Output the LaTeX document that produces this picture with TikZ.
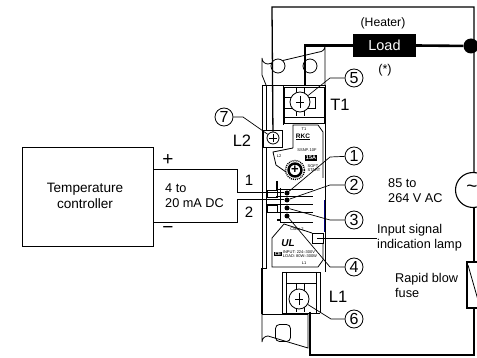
\documentclass[tikz,border=0pt]{standalone}
\usepackage{fontspec}
\setmainfont{Liberation Sans}
\begin{document}
\begin{tikzpicture}[x=1pt, y=-1pt,
    label/.style={inner sep=0pt, align=left, font=\fontsize{12.7}{15}\selectfont},
    big/.style={inner sep=0pt, font=\fontsize{16.5}{17}\selectfont},
    tiny/.style={inner sep=0pt, font=\fontsize{4}{4.5}\selectfont},
    num/.style={draw, circle, line width=0.8pt, minimum size=18pt, inner sep=0pt,
                font=\fontsize{16}{16}\selectfont},
    screw/.style={draw, circle, line width=0.8pt, inner sep=0pt, fill=white},
    spot/.style={circle, fill=black, minimum size=5pt, inner sep=0pt},
    leader/.style={line width=0.7pt},
    body/.style={line width=0.8pt},
    wire/.style={line width=1pt},
    mains/.style={line width=2.6pt}]
    \useasboundingbox (0, 0) rectangle (477, 358);
    \clip (0, 0) rectangle (477, 358);

    % Top tab and holes
    \draw [body] (266, 85) -- (262, 75) -- (262, 58) arc [start angle=180, end angle=90, radius=6] -- (319, 52)
          arc [start angle=90, end angle=0, radius=6] -- (325, 85);
    \node [screw, minimum size=14pt] (holeA) at (278, 66) {};
    \node [screw, minimum size=14pt] (holeB) at (310, 66) {};

    % Body
    \draw [body] (262, 85) -- (325, 85);
    \draw [body] (262, 85) -- (262, 268) -- (266, 268) -- (266, 148);
    \draw [line width=1.1pt] (262, 268) -- (262, 314);
    \draw [body] (266, 85) -- (266, 130) (283, 85) -- (283, 125);
    \draw [body] (325, 85) -- (325, 272);

    % Terminal T1
    \draw [body] (284, 87) rectangle (324, 123);
    \draw [body] (284, 117) -- (324, 117);
    \draw [body] (285, 97) -- (315, 97) -- (315, 108) -- (285, 108);
    \draw [body] (296, 87) -- (296, 116) (304, 87) -- (304, 116);
    \node [screw, minimum size=20pt] (screwT) at (300, 102) {};
    \draw [body] (296, 102) -- (304, 102) (300, 96) -- (300, 108);

    % Terminal L2
    \draw [body] (263, 130) rectangle (282, 147);
    \node [screw, minimum size=12pt] (screwB) at (273, 138) {};

    % Upper plate
    \draw [body] (293, 148) -- (293, 125) -- (318, 125) -- (323, 132) -- (323, 178)
          (293, 148) -- (273, 152) -- (276, 165) -- (286, 172);
    \node [tiny] (plT) at (304, 129) {T1};
    \node [inner sep=0pt, font=\bfseries\fontsize{6.5}{6.5}\selectfont] (plRkc) at (303, 137) {\underline{RKC}};
    \node [tiny] (plModel) at (307, 150) {SSNP.\,10F};
    \node [fill=black, text=white, inner sep=1pt, font=\bfseries\fontsize{5.5}{5.5}\selectfont] (plAmp) at (311, 158) {15A};
    \node [tiny, align=left] (plSoft) at (314, 168) {SOFT\\START};
    \node [tiny] (plL) at (279, 156) {L2};
    \node [draw, circle, line width=2.4pt, fill=white, minimum size=13pt, inner sep=0pt] (dial) at (295, 170) {};
    \node [inner sep=0pt, font=\bfseries\fontsize{13}{13}\selectfont] (dialPlus) at (dial) {+};
    \draw [line width=1.4pt, dash pattern=on 1pt off 1pt] (dial) circle [radius=9.5];

    % Input terminals
    \draw [body] (276, 189) -- (313, 189) (276, 196) -- (313, 196) (266, 204) -- (313, 204)
          (266, 212) -- (313, 212) (280, 188) -- (280, 222) -- (313, 222);
    \draw [body] (267, 190) rectangle (277, 197) (267, 205) rectangle (277, 212);
    \draw [line width=1.4pt] (277, 181) -- (277, 190) (277, 220) -- (280, 220);
    \node [spot] (inA) at (287, 193) {};
    \node [spot] (inB) at (287, 200) {};
    \node [spot] (inC) at (287, 208) {};
    \node [spot] (inD) at (287, 216) {};
    \draw [line width=1pt, blue!50!black] (324, 200) -- (324, 232);

    % Lower plate
    \draw [body] (312, 233) rectangle (323, 243);
    \draw [body] (312, 233) -- (284, 224) -- (272, 238) -- (272, 267) -- (318, 267) -- (323, 260) -- (323, 243);
    \node [tiny, align=center] (plClass) at (297, 229) {Class 2};
    \node [inner sep=0pt, font=\bfseries\itshape\fontsize{10}{10}\selectfont] (plUl) at (288, 243) {UL};
    \node [fill=black, text=white, inner sep=0.6pt, font=\bfseries\fontsize{4.5}{4.5}\selectfont] (plCe) at (278, 254) {CE};
    \node [tiny, align=left] (plInput) at (300, 254) {INPUT: 224--300V\\LOAD: 80W--300W};
    \node [tiny] (plLa) at (304, 263) {L1};

    % Terminal L1
    \draw [body] (282, 272) -- (320, 272) -- (320, 313) (282, 272) -- (282, 313) -- (320, 313);
    \draw [body] (286, 272) -- (286, 285) (316, 272) -- (316, 285);
    \draw [body] (286, 283) rectangle (316, 313);
    \draw [body] (296, 283) -- (296, 312) (304, 283) -- (304, 312);
    \node [screw, minimum size=20pt] (screwL) at (299, 299) {};
    \draw [body] (295, 299) -- (303, 299) (299, 293) -- (299, 305);

    % Bottom tab
    \draw [body] (262, 314) -- (262, 342) arc [start angle=180, end angle=270, radius=6] -- (308, 348) -- (308, 314);
    \draw [body] (262, 314) -- (308, 314);
    \node [draw, body, rounded corners=4pt, minimum width=15pt, minimum height=17pt, inner sep=0pt] (holeC) at (283, 333) {};

    % Temperature controller
    \node [draw, line width=1pt, minimum width=131pt, minimum height=99pt, inner sep=0pt] (ctrl) at (87.5, 197.5) {};
    \node [inner sep=0pt, align=center, font=\fontsize{13.6}{16}\selectfont] (ctrlText) at (85, 195.5) {Temperature\\controller};
    \coordinate (ctrlA) at (153, 170);
    \coordinate (ctrlB) at (153, 223);
    \draw [wire] (ctrlA) -| (237, 193) -- (inA);
    \draw [wire] (ctrlB) -| (237, 200) -- (inB);
    \node [inner sep=0pt, font=\fontsize{19}{19}\selectfont] (plus) at (168, 160) {+};
    \node [inner sep=0pt, font=\fontsize{19}{19}\selectfont] (minus) at (168, 230) {\textminus};
    \node [inner sep=0pt, font=\fontsize{15}{15}\selectfont] (one) at (249, 180) {1};
    \node [inner sep=0pt, font=\fontsize{15}{15}\selectfont] (two) at (249, 212) {2};
    \node [label, anchor=west] (signal) at (165, 196) {4 to\\20 mA DC};

    % Load and mains
    \node [fill=black, text=white, minimum width=63pt, minimum height=23pt, inner sep=0pt,
           font=\fontsize{14.5}{15}\selectfont] (load) at (384.5, 45.5) {Load};
    \node [circle, fill=black, minimum size=15pt, inner sep=0pt] (joint) at (471, 46) {};
    \node [draw, circle, line width=1.1pt, minimum size=35pt, inner sep=0pt, fill=white] (source) at (473, 190) {};
    \node [inner sep=0pt, font=\fontsize{19}{19}\selectfont, anchor=center] (wave) at (472, 189) {\char"007E};
    \node [draw, line width=1.1pt, minimum width=22pt, minimum height=46pt, inner sep=0pt, fill=white] (fuse) at (478, 285) {};
    \draw [line width=0.8pt] (468, 265) -- (478, 300);
    \coordinate (topL) at (272, 7);
    \coordinate (topR) at (474, 7);
    \coordinate (botL) at (310, 355);
    \coordinate (botR) at (474, 355);
    \coordinate (feedT) at (305, 85);
    \coordinate (feedL) at (310, 312);
    \draw [line width=1.3pt] (screwB) -- (topL) -- (topR) -- (source.north -| topR);
    \draw [line width=1.3pt] (source.south -| topR) -- (fuse.north -| topR);
    \draw [mains] (feedT) |- (load.west);
    \draw [mains] (load.east) -- (joint);
    \draw [mains] (feedL) -- (botL) -- (botR) -- (fuse.south -| botR);
    \draw [body] (269, 138) -- (277, 138) (273, 134) -- (273, 142);

    % Callouts
    \node [num] (numE) at (354, 78) {5};
    \node [num] (numA) at (354, 156) {1};
    \node [num] (numB) at (354, 185) {2};
    \node [num] (numC) at (354, 220) {3};
    \node [num] (numD) at (354, 267) {4};
    \node [num] (numF) at (354, 319) {6};
    \node [num] (numG) at (224, 117) {7};
    \draw [leader] (numE) -- (330, 78) -- (screwT);
    \draw [leader] (numA) -- (330, 157) -- (inA);
    \draw [leader] (numB) -- (330, 185) -- (inB);
    \draw [leader] (numC) -- (330, 220) -- (inC);
    \draw [leader] (numD) -- (330, 267) -- (inD);
    \draw [leader] (numF) -- (331, 319) -- (screwL);
    \draw [leader] (numG) -- (243, 117) -- (screwB);

    % Labels
    \node [label, font=\fontsize{12.2}{13}\selectfont] (heater) at (383, 23) {(Heater)};
    \node [label] (note) at (385, 70) {(*)};
    \node [big] (tOne) at (340, 105) {T1};
    \node [big] (lTwo) at (242, 141) {L2};
    \node [big] (lOne) at (338, 297) {L1};
    \node [label, anchor=west] (volts) at (388, 191) {85 to\\264 V AC};
    \node [label, anchor=west] (lamp) at (377, 238) {Input signal\\indication lamp};
    \draw [leader] (lamp.west) -- (317, 238);
    \node [label, anchor=west] (rapid) at (395, 285) {Rapid blow\\fuse};
\end{tikzpicture}
\end{document}
